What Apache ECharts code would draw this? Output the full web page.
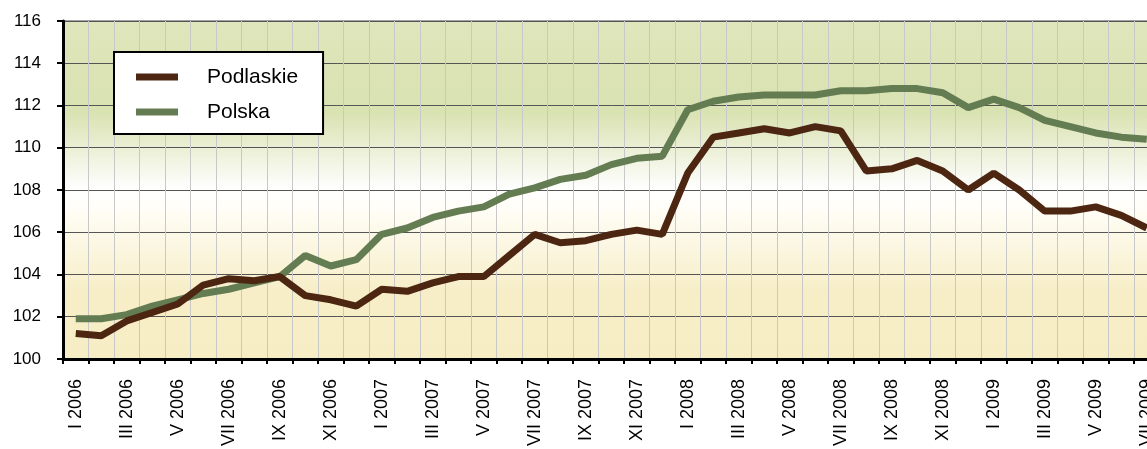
<!DOCTYPE html>
<html>
<head>
<meta charset="utf-8">
<script src="https://cdn.jsdelivr.net/npm/echarts@6/dist/echarts.min.js"></script>
<style>
html,body{margin:0;padding:0;overflow:hidden;background:#fff;width:1147px;height:449px;}
#wrap{position:fixed;left:0;top:0;width:1147px;height:449px;overflow:hidden;}
#c{position:absolute;left:0;top:0;width:1200px;height:449px;}
</style>
</head>
<body>
<div id="wrap"><div id="c"></div></div>
<script>
const categories = [
 'I 2006','II 2006','III 2006','IV 2006','V 2006','VI 2006','VII 2006','VIII 2006','IX 2006','X 2006','XI 2006','XII 2006',
 'I 2007','II 2007','III 2007','IV 2007','V 2007','VI 2007','VII 2007','VIII 2007','IX 2007','X 2007','XI 2007','XII 2007',
 'I 2008','II 2008','III 2008','IV 2008','V 2008','VI 2008','VII 2008','VIII 2008','IX 2008','X 2008','XI 2008','XII 2008',
 'I 2009','II 2009','III 2009','IV 2009','V 2009','VI 2009','VII 2009'
];
const podlaskie = [
 101.2,101.1,101.8,102.2,102.6,103.5,103.8,103.7,103.9,103.0,102.8,102.5,
 103.3,103.2,103.6,103.9,103.9,104.9,105.9,105.5,105.6,105.9,106.1,105.9,
 108.8,110.5,110.7,110.9,110.7,111.0,110.8,108.9,109.0,109.4,108.9,108.0,
 108.8,108.0,107.0,107.0,107.2,106.8,106.2
];
const polska = [
 101.9,101.9,102.1,102.5,102.8,103.1,103.3,103.6,103.9,104.9,104.4,104.7,
 105.9,106.2,106.7,107.0,107.2,107.8,108.1,108.5,108.7,109.2,109.5,109.6,
 111.8,112.2,112.4,112.5,112.5,112.5,112.7,112.7,112.8,112.8,112.6,111.9,
 112.3,111.9,111.3,111.0,110.7,110.5,110.4
];
const yTicks = {min:100, max:116, interval:2};

const chart = echarts.init(document.getElementById('c'), null, {renderer:'canvas'});
const bg = new echarts.graphic.LinearGradient(0,0,0,1,[
  {offset:0, color:'#dfe6bc'},
  {offset:0.27, color:'#d9e2b1'},
  {offset:0.5, color:'#ffffff'},
  {offset:0.56, color:'#fffdf6'},
  {offset:0.8, color:'#f7eec7'},
  {offset:1, color:'#f7edc5'}
]);
chart.setOption({
  animation:false,
  grid:{left:63, top:21, width:categories.length*25.5, height:340, show:true, backgroundColor:bg, borderColor:'#a0a0a0', borderWidth:2},
  legend:{
    left:114, top:52, orient:'vertical',
    data:['Podlaskie','Polska'],
    icon:'rect', itemWidth:42, itemHeight:7, itemGap:11,
    backgroundColor:'#ffffff', borderColor:'#000', borderWidth:2,
    padding:[13,25,10,22],
    textStyle:{fontFamily:'Liberation Sans, Arial', fontSize:21, color:'#000', lineHeight:24, padding:[0,0,0,24]}
  },
  xAxis:{
    type:'category', data:categories, boundaryGap:true,
    axisLine:{lineStyle:{color:'#000', width:3}},
    axisTick:{show:true, interval:0, length:5, lineStyle:{color:'#000', width:2}},
    splitLine:{show:true, interval:0, lineStyle:{color:'#c8c8c8', width:1}},
    axisLabel:{interval:1, rotate:90, margin:20, fontFamily:'Liberation Sans, Arial', fontSize:18, color:'#000'}
  },
  yAxis:{
    type:'value', min:yTicks.min, max:yTicks.max, interval:yTicks.interval,
    axisLine:{show:true, lineStyle:{color:'#000', width:3}},
    axisTick:{show:true, length:6, lineStyle:{color:'#000', width:2}},
    splitLine:{show:true, lineStyle:{color:'#555', width:1}},
    axisLabel:{margin:22, fontFamily:'Liberation Sans, Arial', fontSize:17, color:'#000'}
  },
  series:[
    {name:'Polska', type:'line', data:polska, symbol:'none', z:2, lineStyle:{color:'#647c52', width:7}, itemStyle:{color:'#647c52'}},
    {name:'Podlaskie', type:'line', data:podlaskie, symbol:'none', z:3, lineStyle:{color:'#4d2612', width:7}, itemStyle:{color:'#4d2612'}}
  ]
});
</script>
</body>
</html>
